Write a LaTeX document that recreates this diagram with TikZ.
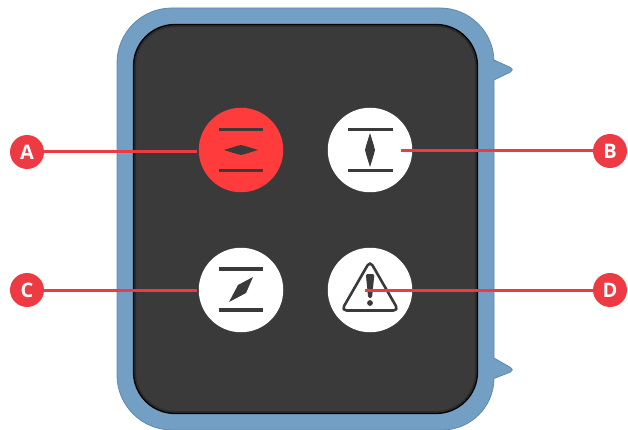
\documentclass[tikz,border=0pt]{standalone}
\usepackage{fontspec}
\setmainfont{Open Sans}
\definecolor{shell}{HTML}{729FC3}
\definecolor{shelledge}{HTML}{5F8AAB}
\definecolor{panel}{HTML}{3A3A3A}
\definecolor{mark}{HTML}{EE3B43}
\definecolor{hot}{HTML}{FF3B3B}
\definecolor{glyph}{HTML}{3A3A3A}
\tikzset{
  x=1pt,y=-1pt,
  button/.style={circle,minimum size=84.5pt,inner sep=0pt,draw=none},
  tag/.style={circle,fill=mark,minimum size=34pt,inner sep=0pt,text=white,font=\fontsize{20}{20}\selectfont\bfseries},
  leader/.style={draw=mark,line width=3pt},
  bar/.style={draw=glyph,line width=3.3pt},
  needle/.style={fill=glyph,line join=round},
}
\begin{document}
\begin{tikzpicture}
\useasboundingbox (0,0) rectangle (628,430);
% shell
\fill[shell,draw=shelledge,line width=.8pt,line join=round]
  (172,8) -- (440,8) arc[start angle=270,end angle=360,radius=54] -- (494,60)
  -- (510.5,67.5) .. controls (513,68.5) and (513,71) .. (510.5,72) -- (494,80)
  -- (494,358) -- (510.5,367.5) .. controls (513,368.5) and (513,371) .. (510.5,372) -- (494,378.5)
  -- (494,378) arc[start angle=0,end angle=90,radius=52] -- (172,430)
  arc[start angle=90,end angle=180,radius=55] -- (117,63)
  arc[start angle=180,end angle=270,radius=55] -- cycle;
% panel
\fill[panel,draw=black,line width=1.3pt]
  (175,24.5) -- (436,24.5) arc[start angle=270,end angle=360,radius=41.5] -- (477.5,372)
  arc[start angle=0,end angle=90,radius=41.5] -- (175,413.5)
  arc[start angle=90,end angle=180,radius=41.5] -- (133.5,66)
  arc[start angle=180,end angle=270,radius=41.5] -- cycle;
\draw[black,opacity=.25,line width=2pt]
  (175,26) -- (436,26) arc[start angle=270,end angle=360,radius=40] -- (476,372)
  arc[start angle=0,end angle=90,radius=40] -- (175,412)
  arc[start angle=90,end angle=180,radius=40] -- (135,66)
  arc[start angle=180,end angle=270,radius=40] -- cycle;
% buttons
\node[button,fill=hot]   (b1) at (241,150) {};
\node[button,fill=white] (b2) at (370,150) {};
\node[button,fill=white] (b3) at (241,290) {};
\node[button,fill=white] (b4) at (370,290) {};
% glyph 1
\draw[bar] (218.5,129.5) -- (263,129.5) (218.5,170.7) -- (263,170.7);
\fill[needle] (224,150) -- (236,146.3) -- (241,145) -- (246,146.3) -- (258,150) -- (246,153.7) -- (241,155) -- (236,153.7) -- cycle;
% glyph 2
\draw[bar] (348,129.5) -- (392.5,129.5) (348,170.7) -- (392.5,170.7);
\fill[needle] (370,133) -- (373.7,145) -- (375,150) -- (373.7,155) -- (370,167) -- (366.3,155) -- (365,150) -- (366.3,145) -- cycle;
% glyph 3
\draw[bar] (218.5,269) -- (263,269) (218.5,310) -- (263,310);
\fill[needle] (253,277) -- (246,293) -- (229,302) -- (238,285) -- cycle;
% glyph 4
\draw[draw=glyph,line width=2.6pt,line join=round,rounded corners=5pt] (370,261) -- (398.5,310.5) -- (341.5,310.5) -- cycle;
\fill[glyph,rounded corners=1.5pt] (365.8,274) -- (374.4,274) -- (372,298) -- (368.2,298) -- cycle;
\fill[glyph] (370,303) circle[radius=2.9];
% tags and leaders
\node[tag] (A) at (27,152) {A};
\node[tag] (B) at (610,151) {B};
\node[tag] (C) at (27,290) {C};
\node[tag] (D) at (610,290) {D};
\coordinate (ea) at (196.5,152);
\coordinate (eb) at (400.5,151);
\coordinate (ec) at (196.5,290);
\coordinate (ed) at (364.5,290);
\draw[leader] (A) -- (ea);
\draw[leader] (B) -- (eb);
\draw[leader] (C) -- (ec);
\draw[leader] (D) -- (ed);
\end{tikzpicture}
\end{document}
